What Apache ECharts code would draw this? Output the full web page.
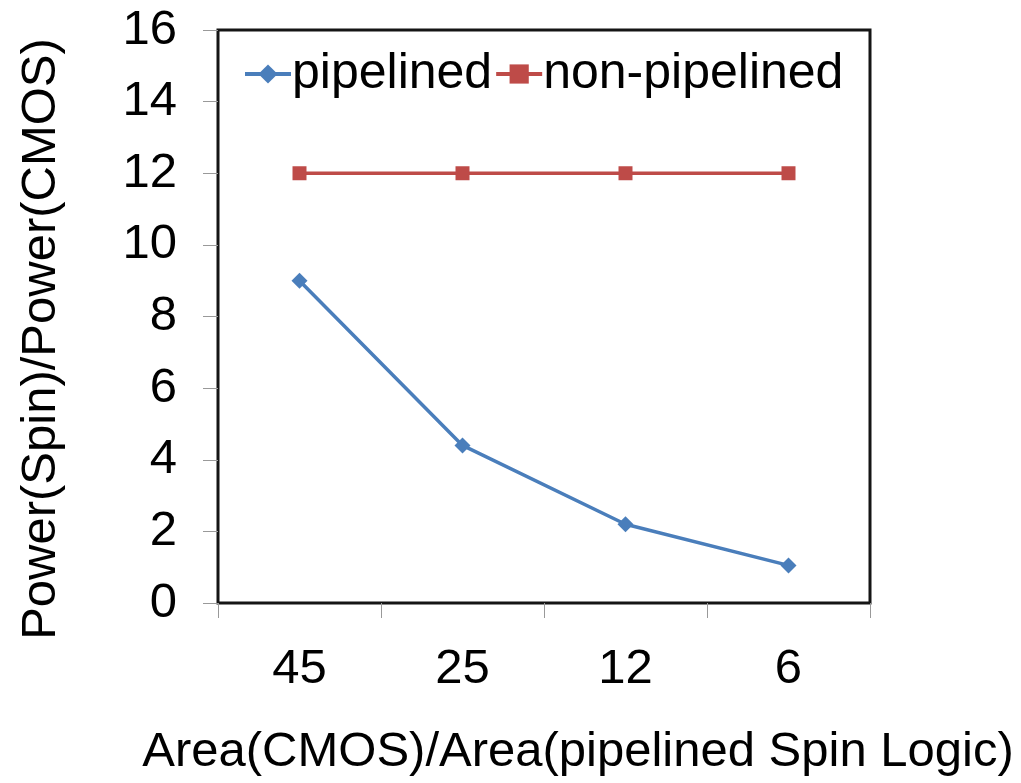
<!DOCTYPE html>
<html>
<head>
<meta charset="utf-8">
<script src="https://cdn.jsdelivr.net/npm/echarts@6/dist/echarts.min.js"></script>
<style>
  html, body { margin: 0; padding: 0; background: #fff; }
  #chart { width: 1021px; height: 783px; }
</style>
</head>
<body>
<div id="chart"></div>
<script>
// Area ratio categories along the x axis
const categories = ['45', '25', '12', '6'];
// Power ratio for each design
const pipelined = [9, 4.4, 2.2, 1.05];
const nonPipelined = [12, 12, 12, 12];
// Value axis
const yMin = 0, yMax = 16, yStep = 2;

const FONT = 'Liberation Sans, Arial, sans-serif';
const chart = echarts.init(document.getElementById('chart'));

chart.setOption({
  backgroundColor: '#fff',
  animation: false,
  grid: {
    left: 218, right: 151, top: 30, bottom: 180,
    show: true, borderColor: '#151515', borderWidth: 3, backgroundColor: 'transparent'
  },
  legend: {
    left: 238, top: 44,
    itemWidth: 46, itemHeight: 24, itemGap: 2,
    lineStyle: { width: 4 },
    textStyle: { fontFamily: FONT, fontSize: 50, color: '#000', padding: [0, 0, 0, -4] },
    data: ['pipelined', 'non-pipelined']
  },
  xAxis: {
    type: 'category',
    data: categories,
    boundaryGap: true,
    axisLine: { show: false },
    axisTick: { show: true, inside: false, length: 15, lineStyle: { color: '#999', width: 1 } },
    axisLabel: { fontFamily: FONT, fontSize: 49, color: '#000', margin: 42 },
    splitLine: { show: false }
  },
  yAxis: {
    type: 'value',
    min: yMin, max: yMax, interval: yStep,
    axisLine: { show: false },
    axisTick: { show: true, inside: false, length: 15, lineStyle: { color: '#999', width: 1 } },
    axisLabel: { fontFamily: FONT, fontSize: 49, color: '#000', margin: 41 },
    splitLine: { show: false }
  },
  graphic: [
    {
      type: 'text',
      x: 578, y: 752,
      style: {
        text: 'Area(CMOS)/Area(pipelined Spin Logic)',
        font: '49px ' + FONT, fill: '#000',
        textAlign: 'center', textVerticalAlign: 'middle'
      }
    },
    {
      type: 'text',
      x: 41, y: 339, rotation: Math.PI / 2,
      style: {
        text: 'Power(Spin)/Power(CMOS)',
        font: '49px ' + FONT, fill: '#000',
        textAlign: 'center', textVerticalAlign: 'middle'
      }
    }
  ],
  series: [
    {
      name: 'pipelined', type: 'line', data: pipelined,
      symbol: 'diamond', symbolSize: 16,
      lineStyle: { color: '#4A7EBB', width: 3.5 },
      itemStyle: { color: '#4A7EBB' }
    },
    {
      name: 'non-pipelined', type: 'line', data: nonPipelined,
      symbol: 'rect', symbolSize: 14,
      lineStyle: { color: '#BE4B48', width: 3.5 },
      itemStyle: { color: '#BE4B48' }
    }
  ]
});
</script>
</body>
</html>
